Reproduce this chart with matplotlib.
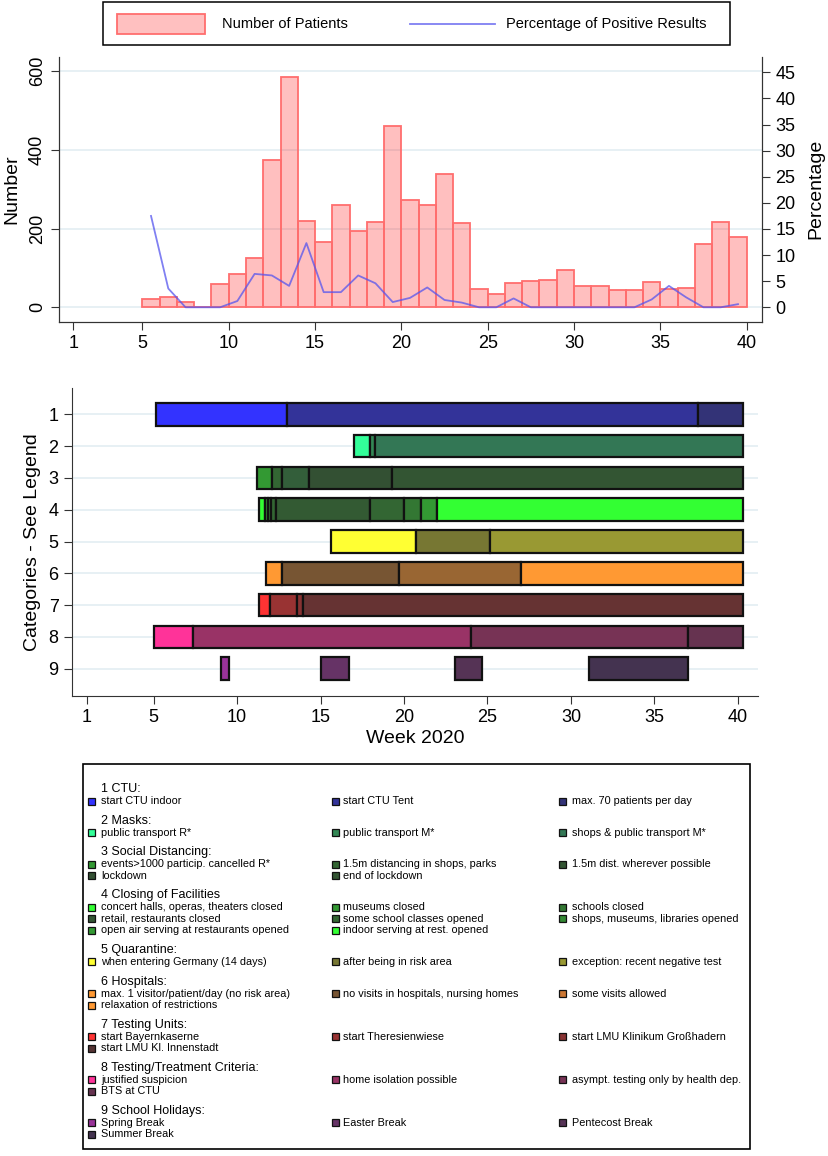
import numpy as np
import matplotlib.pyplot as plt
from matplotlib.patches import Rectangle
from matplotlib.lines import Line2D

plt.rcParams['font.family'] = ['Liberation Sans', 'DejaVu Sans']

# weekly patient numbers (bars span week w .. w+1)
bar_weeks = list(range(5, 40))
patients = [22, 26, 14, 0, 60, 85, 125, 374, 585, 219, 167, 261, 193, 216, 460,
            274, 261, 338, 215, 47, 35, 61, 66, 69, 95, 53, 54, 45, 43, 64,
            47, 50, 162, 217, 178]
# percentage of positive results, plotted at mid-week
pct_weeks = [w + 0.5 for w in bar_weeks]
pct_positive = [17.5, 3.6, 0, 0, 0, 1.2, 6.4, 6.1, 4.1, 12.3,
                2.9, 2.9, 6.1, 4.6, 1.0, 1.8, 3.8, 1.4, 0.9, 0,
                0, 1.7, 0, 0, 0, 0, 0, 0, 0, 1.5,
                4.1, 1.9, 0, 0, 0.6]

# measure timelines: segment edges (weeks) and colours per category
cat1_edges = [5.15, 12.98, 37.6, 40.28]
cat1_colors = ['#3333ff', '#333399', '#333377']
cat2_edges = [17.03, 17.96, 18.27, 40.28]
cat2_colors = ['#33ff99', '#338855', '#337755']
cat3_edges = [11.18, 12.1, 12.71, 14.29, 19.3, 40.28]
cat3_colors = ['#339933', '#336633', '#335e3a', '#335033', '#335533']
cat4_edges = [11.32, 11.68, 11.86, 12.05, 12.33, 17.97, 20.0, 21.0, 22.0, 40.28]
cat4_colors = ['#33ff33', '#339933', '#337733', '#336633', '#335a33',
               '#336633', '#337733', '#339933', '#33ff33']
cat5_edges = [15.63, 20.7, 25.15, 40.28]
cat5_colors = ['#ffff33', '#777733', '#999933']
cat6_edges = [11.74, 12.71, 19.7, 27.0, 40.28]
cat6_colors = ['#ff9933', '#775533', '#996633', '#ff9933']
cat7_edges = [11.32, 11.96, 13.57, 13.97, 40.28]
cat7_colors = ['#ff3333', '#993333', '#883333', '#663333']
cat8_edges = [5.03, 7.38, 23.99, 37.0, 40.28]
cat8_colors = ['#ff3399', '#993366', '#773355', '#663350']
holiday_start = [9.02, 15.01, 23.04, 31.06]
holiday_end = [9.52, 16.69, 24.69, 36.99]
holiday_colors = ['#993399', '#663366', '#553355', '#443350']

week_ticks = [1, 5, 10, 15, 20, 25, 30, 35, 40]

# legend groups
group_titles = ['1 CTU:', '2 Masks:', '3 Social Distancing:', '4 Closing of Facilities',
                '5 Quarantine:', '6 Hospitals:', '7 Testing Units:',
                '8 Testing/Treatment Criteria:', '9 School Holidays:']
group_items = [
    ['start CTU indoor', 'start CTU Tent', 'max. 70 patients per day'],
    ['public transport R*', 'public transport M*', 'shops & public transport M*'],
    ['events>1000 particip. cancelled R*', '1.5m distancing in shops, parks',
     '1.5m dist. wherever possible', 'lockdown', 'end of lockdown'],
    ['concert halls, operas, theaters closed', 'museums closed', 'schools closed',
     'retail, restaurants closed', 'some school classes opened',
     'shops, museums, libraries opened', 'open air serving at restaurants opened',
     'indoor serving at rest. opened'],
    ['when entering Germany (14 days)', 'after being in risk area',
     'exception: recent negative test'],
    ['max. 1 visitor/patient/day (no risk area)', 'no visits in hospitals, nursing homes',
     'some visits allowed', 'relaxation of restrictions'],
    ['start Bayernkaserne', 'start Theresienwiese', 'start LMU Klinikum Großhadern',
     'start LMU Kl. Innenstadt'],
    ['justified suspicion', 'home isolation possible', 'asympt. testing only by health dep.',
     'BTS at CTU'],
    ['Spring Break', 'Easter Break', 'Pentecost Break', 'Summer Break'],
]
group_colors = [
    ['#3333ff', '#333399', '#333377'],
    ['#33ff99', '#338855', '#337755'],
    ['#339933', '#336633', '#335533', '#335033', '#335533'],
    ['#33ff33', '#339933', '#337733', '#335533', '#336633', '#338833', '#339933', '#33ff33'],
    ['#ffff33', '#777733', '#999933'],
    ['#ff9933', '#775533', '#cc7733', '#ff9933'],
    ['#ff3333', '#993333', '#883333', '#553333'],
    ['#ff3399', '#993366', '#773355', '#663350'],
    ['#993399', '#663366', '#553355', '#443350'],
]

W, H = 829, 1156
fig = plt.figure(figsize=(W / 100, H / 100), dpi=100)


def fx(px):
    return px / W


def fy(py):
    return 1 - py / H


grid_col = '#e3edf2'
spine_col = '#333333'
bar_face = '#ffc0c0'
bar_edge = '#ff6e6e'
line_col = '#5555ee'

# ---------------- top panel ----------------
ax = fig.add_axes([fx(59), fy(321.7), (762 - 59) / W, (321.7 - 56.7) / H])
ax.bar(bar_weeks, patients, width=1.0, align='edge', color='#ff0000', alpha=0.25,
       edgecolor='none', zorder=2)
ax.bar(bar_weeks, patients, width=1.0, align='edge', facecolor='none',
       edgecolor=bar_edge, linewidth=1.3, zorder=3)
ax.set_xlim(0.17, 40.89)
ax.set_ylim(-36.6, 637)
ax.set_yticks([0, 200, 400, 600])
ax.set_xticks(week_ticks)
ax.grid(axis='y', color=grid_col, linewidth=1.2, zorder=0)
ax.set_axisbelow(True)
ax.tick_params(axis='y', labelrotation=90, labelsize=13, length=6, color=spine_col)
for lab in ax.get_yticklabels():
    lab.set_va('center')
ax.tick_params(axis='x', labelsize=13, length=6, color=spine_col)
ax.set_ylabel('Number', fontsize=14, labelpad=6)
ax.spines['top'].set_visible(False)
for s in ['left', 'bottom', 'right']:
    ax.spines[s].set_color(spine_col)

ax2 = ax.twinx()
ax2.plot(pct_weeks, pct_positive, color=line_col, alpha=0.75, linewidth=1.3, zorder=4)
ax2.set_ylim(-2.76, 48.0)
ax2.set_yticks(range(0, 50, 5))
ax2.tick_params(axis='y', labelsize=13, length=6, color=spine_col)
ax2.set_ylabel('Percentage', fontsize=14, labelpad=9)
ax2.spines['top'].set_visible(False)
for s in ['left', 'bottom', 'right']:
    ax2.spines[s].set_color(spine_col)

# top legend, drawn in figure pixels
fig.patches.append(Rectangle((fx(103), fy(45)), (730 - 103) / W, 43 / H,
                             transform=fig.transFigure, facecolor='white',
                             edgecolor='black', linewidth=1.1))
fig.patches.append(Rectangle((fx(117), fy(34)), 88 / W, 20 / H,
                             transform=fig.transFigure, facecolor=bar_face,
                             edgecolor=bar_edge, linewidth=1.3))
fig.lines.append(Line2D([fx(410), fx(495)], [fy(24), fy(24)], transform=fig.transFigure,
                        color=line_col, alpha=0.75, linewidth=1.3))
fig.text(fx(222), fy(24), 'Number of Patients', fontsize=10.5, va='center', ha='left')
fig.text(fx(506), fy(24), 'Percentage of Positive Results', fontsize=10.5,
         va='center', ha='left')

# ---------------- bottom panel ----------------
bx = fig.add_axes([fx(71.7), fy(696), (758 - 71.7) / W, (696 - 388) / H])
all_edges = [cat1_edges, cat2_edges, cat3_edges, cat4_edges, cat5_edges,
             cat6_edges, cat7_edges, cat8_edges]
all_colors = [cat1_colors, cat2_colors, cat3_colors, cat4_colors, cat5_colors,
              cat6_colors, cat7_colors, cat8_colors]
bar_h = 0.71
for i, (edges, cols) in enumerate(zip(all_edges, all_colors)):
    cat = i + 1
    for k in range(len(cols)):
        bx.barh(cat, edges[k + 1] - edges[k], left=edges[k], height=bar_h,
                color=cols[k], edgecolor='#111111', linewidth=1.6, zorder=3)
for s, e, c in zip(holiday_start, holiday_end, holiday_colors):
    bx.barh(9, e - s, left=s, height=bar_h, color=c, edgecolor='#111111',
            linewidth=1.6, zorder=3)

bx.set_xlim(0.1, 41.2)
bx.set_ylim(9.86, 0.17)
bx.set_yticks(range(1, 10))
bx.set_xticks(week_ticks)
bx.grid(axis='y', color=grid_col, linewidth=1.2, zorder=0)
bx.set_axisbelow(True)
bx.tick_params(axis='both', labelsize=13, length=6, color=spine_col)
bx.set_xlabel('Week 2020', fontsize=14, labelpad=3)
bx.set_ylabel('Categories - See Legend', fontsize=14, labelpad=5)
bx.spines['top'].set_visible(False)
bx.spines['right'].set_visible(False)
for s in ['left', 'bottom']:
    bx.spines[s].set_color(spine_col)

# ---------------- legend box ----------------
fig.patches.append(Rectangle((fx(83), fy(1149)), (750 - 83) / W, (1149 - 764) / H,
                             transform=fig.transFigure, facecolor='none',
                             edgecolor='black', linewidth=1.2))
col_swatch = [92, 335, 562]
col_text = [101, 343, 572]
y = 789
for title, items, cols in zip(group_titles, group_items, group_colors):
    fig.text(fx(101), fy(y), title, fontsize=9, va='center', ha='left')
    y += 12
    for j, (item, c) in enumerate(zip(items, cols)):
        col = j % 3
        if j > 0 and col == 0:
            y += 11.5
        fig.patches.append(Rectangle((fx(col_swatch[col] - 3.5), fy(y + 3.5)),
                                     7 / W, 7 / H, transform=fig.transFigure,
                                     facecolor=c, edgecolor='#111111', linewidth=0.9))
        fig.text(fx(col_text[col]), fy(y), item, fontsize=7.8, va='center', ha='left')
    y += 19.6

fig.savefig('out.png', dpi=100)
